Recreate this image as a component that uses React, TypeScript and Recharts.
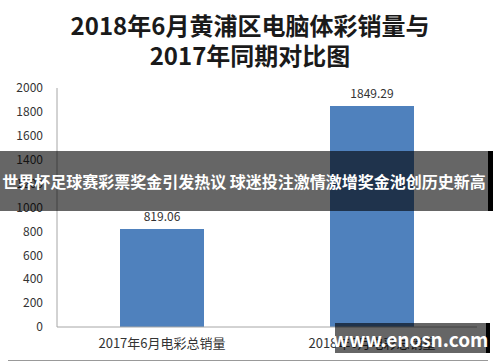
import { BarChart, Bar, XAxis, YAxis, LabelList } from 'recharts'

const categories = ['2017年6月电彩总销量', '2018年6月电彩总销量']
const sales = [819.06, 1849.29]
const yTicks = [0, 200, 400, 600, 800, 1000, 1200, 1400, 1600, 1800, 2000]

const titleLines = ['2018年6月黄浦区电脑体彩销量与', '2017年同期对比图']
const bannerText = '世界杯足球赛彩票奖金引发热议 球迷投注激情激增奖金池创历史新高'
const watermark = 'www.enosn.com'

const font = '"Noto Sans CJK SC", "Noto Sans", sans-serif'

export default function App() {
  const data = categories.map((name, i) => ({ name, value: sales[i] }))

  return (
    <div style={{ position: 'absolute', left: 0, top: 0, width: 500, height: 362, background: '#fff', fontFamily: font, overflow: 'hidden' }}>
      {titleLines.map((line, i) => (
        <div
          key={line}
          style={{
            position: 'absolute', left: 0, width: 500, top: 10 + i * 30, textAlign: 'center',
            fontSize: 24, fontWeight: 700, lineHeight: '30px', color: '#1a1a1a',
          }}
        >
          {line}
        </div>
      ))}

      <div style={{ position: 'absolute', left: 0, top: 0 }}>
        <BarChart width={500} height={362} data={data} margin={{ top: 88, right: 23, bottom: 5, left: 7 }} barCategoryGap="30%">
          <XAxis
            dataKey="name"
            height={30}
            tick={{ fontSize: 13, fill: '#333', fontFamily: font }}
            tickLine={false}
            tickSize={6}
            tickMargin={6}
            axisLine={{ stroke: '#a6a6a6' }}
          />
          <YAxis
            width={50}
            domain={[0, 2000]}
            ticks={yTicks}
            interval={0}
            tick={{ fontSize: 12, fill: '#333', fontFamily: font }}
            tickLine={false}
            tickSize={6}
            tickMargin={8}
            axisLine={{ stroke: '#a6a6a6' }}
          />
          <Bar dataKey="value" fill="#4f81bd" isAnimationActive={false}>
            <LabelList dataKey="value" position="top" offset={8} formatter={(v: number) => v.toFixed(2)} style={{ fontSize: 12, fill: '#333', fontFamily: font }} />
          </Bar>
        </BarChart>
      </div>

      <div style={{ position: 'absolute', left: 8, top: 360, width: 480, height: 1, background: '#999' }} />

      <div
        style={{
          position: 'absolute', left: 0, top: 151, width: 488, height: 60, background: 'rgba(0,0,0,0.6)',
          borderRight: '5px solid #000', color: '#fff', fontSize: 16, fontWeight: 700,
          display: 'flex', alignItems: 'center', justifyContent: 'center', whiteSpace: 'nowrap',
        }}
      >
        {bannerText}
      </div>

      <div
        style={{
          position: 'absolute', left: 335, top: 323, width: 151, height: 30, background: 'rgba(0,0,0,0.6)',
          borderRight: '4px solid #000', color: '#fff', fontSize: 19, fontWeight: 700,
          display: 'flex', alignItems: 'center', justifyContent: 'center', whiteSpace: 'nowrap',
        }}
      >
        {watermark}
      </div>
    </div>
  )
}
